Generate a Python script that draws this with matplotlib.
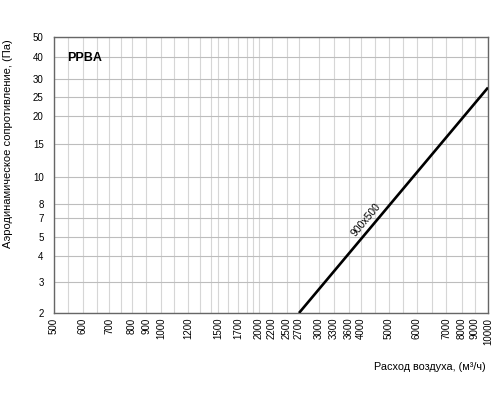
import numpy as np
import matplotlib
matplotlib.use('Agg')
import matplotlib.pyplot as plt

plt.rcParams['font.family'] = ['Liberation Sans', 'DejaVu Sans']

# ---------------- data ----------------
flow = [2700, 10000]            # м³/ч
pressure = [2, 27.5]            # Па
series_label = '900x500'
chart_title = 'PPBA'

x_tick_values = [500, 600, 700, 800, 900, 1000, 1200, 1500, 1700, 2000, 2200,
                 2500, 2700, 3000, 3300, 3600, 4000, 5000, 6000, 7000, 8000,
                 9000, 10000]
x_tick_labels = [str(v) for v in x_tick_values]
x_minor_values = [550, 650, 750, 1100, 1300, 1400, 1600, 1800, 1900, 4500,
                  5500, 6500]

y_tick_values = [2, 3, 4, 5, 7, 8, 10, 15, 20, 25, 30, 40, 50]
y_tick_labels = [str(v) for v in y_tick_values]

x_label = 'Расход воздуха, (м³/ч)'
y_label = 'Аэродинамическое сопротивление, (Па)'

# ---------------- layout ----------------
W, H = 500, 400
AX_L, AX_R, AX_T, AX_B = 54, 488, 37, 313   # axes box in pixels

# hand-drawn nomogram axis: pixel position of each gridline value
X_ANCHOR_VALUES = [500, 550, 600, 650, 700, 750, 800, 900, 1000, 1100, 1200,
                   1300, 1400, 1500, 1600, 1700, 1800, 1900, 2000, 2200, 2500,
                   2700, 3000, 3300, 3600, 4000, 4500, 5000, 5500, 6000, 6500,
                   7000, 8000, 9000, 10000]
X_ANCHOR_PX = [54, 68, 83, 97, 109, 121, 132, 146, 161, 174, 188,
               200, 211, 218, 228, 238, 247, 253, 259, 272, 287,
               299, 319, 334, 349, 361, 375, 389, 403, 417, 432,
               446, 462, 475, 488]
Y_ANCHOR_VALUES = [2, 3, 4, 5, 7, 8, 10, 15, 20, 25, 30, 40, 50]
Y_ANCHOR_PX = [313, 282, 256, 237, 218, 204, 177, 144, 116, 97, 79, 57, 37]

xa_log = np.log10(X_ANCHOR_VALUES)
xa_fr = (np.array(X_ANCHOR_PX) - AX_L) / (AX_R - AX_L)
ya_log = np.log10(Y_ANCHOR_VALUES)
ya_fr = (AX_B - np.array(Y_ANCHOR_PX)) / (AX_B - AX_T)


def make_scale(lv, fr):
    s0f = (fr[1] - fr[0]) / (lv[1] - lv[0])
    s1f = (fr[-1] - fr[-2]) / (lv[-1] - lv[-2])

    def fwd(v):
        v = np.asarray(v, dtype=float)
        with np.errstate(divide='ignore', invalid='ignore'):
            lg = np.log10(np.where(v > 0, v, 1e-9))
        out = np.interp(lg, lv, fr)
        out = np.where(lg < lv[0], fr[0] + (lg - lv[0]) * s0f, out)
        out = np.where(lg > lv[-1], fr[-1] + (lg - lv[-1]) * s1f, out)
        return out

    def inv(f):
        f = np.asarray(f, dtype=float)
        out = np.interp(f, fr, lv)
        out = np.where(f < fr[0], lv[0] + (f - fr[0]) / s0f, out)
        out = np.where(f > fr[-1], lv[-1] + (f - fr[-1]) / s1f, out)
        return 10 ** out

    return fwd, inv


fig = plt.figure(figsize=(W / 100, H / 100), dpi=100)
ax = fig.add_axes([AX_L / W, (H - AX_B) / H, (AX_R - AX_L) / W, (AX_B - AX_T) / H])

ax.set_xscale('function', functions=make_scale(xa_log, xa_fr))
ax.set_yscale('function', functions=make_scale(ya_log, ya_fr))
ax.set_xlim(x_tick_values[0], x_tick_values[-1])
ax.set_ylim(y_tick_values[0], y_tick_values[-1])

ax.set_xticks(x_tick_values)
ax.set_xticklabels(x_tick_labels, rotation=90, fontsize=7)
ax.set_xticks(x_minor_values, minor=True)
ax.set_yticks(y_tick_values)
ax.set_yticklabels(y_tick_labels, fontsize=7)
ax.tick_params(axis='both', which='both', length=0)
ax.tick_params(axis='x', pad=3.5)
ax.tick_params(axis='y', pad=7.5)

ax.grid(True, axis='x', which='both', color='#d6d6d6', lw=0.8)
ax.grid(True, axis='y', which='major', color='#bdbdbd', lw=0.8)
ax.set_axisbelow(True)
for s in ax.spines.values():
    s.set_color('#666666')
    s.set_linewidth(1.0)

ax.plot(flow, pressure, color='black', lw=1.9, solid_capstyle='butt', zorder=3)

# label along the line
p0 = ax.transData.transform((flow[0], pressure[0]))
p1 = ax.transData.transform((flow[1], pressure[1]))
d = p1 - p0
ang = np.degrees(np.arctan2(d[1], d[0]))
t = 0.39
pm = p0 + t * d
xy = ax.transData.inverted().transform(pm)
nrm = np.array([-d[1], d[0]]) / np.hypot(*d)
off = nrm * 9
ax.annotate(series_label, xy=xy, xytext=(off[0], off[1]), textcoords='offset pixels',
            rotation=ang, rotation_mode='anchor', ha='center', va='center',
            fontsize=7.5, color='black')

ax.text(0.03, 0.913, chart_title, transform=ax.transAxes, fontsize=9,
        fontweight='bold', ha='left', va='baseline')

fig.text(486 / W, (H - 367) / H, x_label, ha='right', va='center', fontsize=7.8)
fig.text(8 / W, (H - 144) / H, y_label, ha='center', va='center', rotation=90,
         fontsize=8)

fig.savefig('out.png', dpi=100)
